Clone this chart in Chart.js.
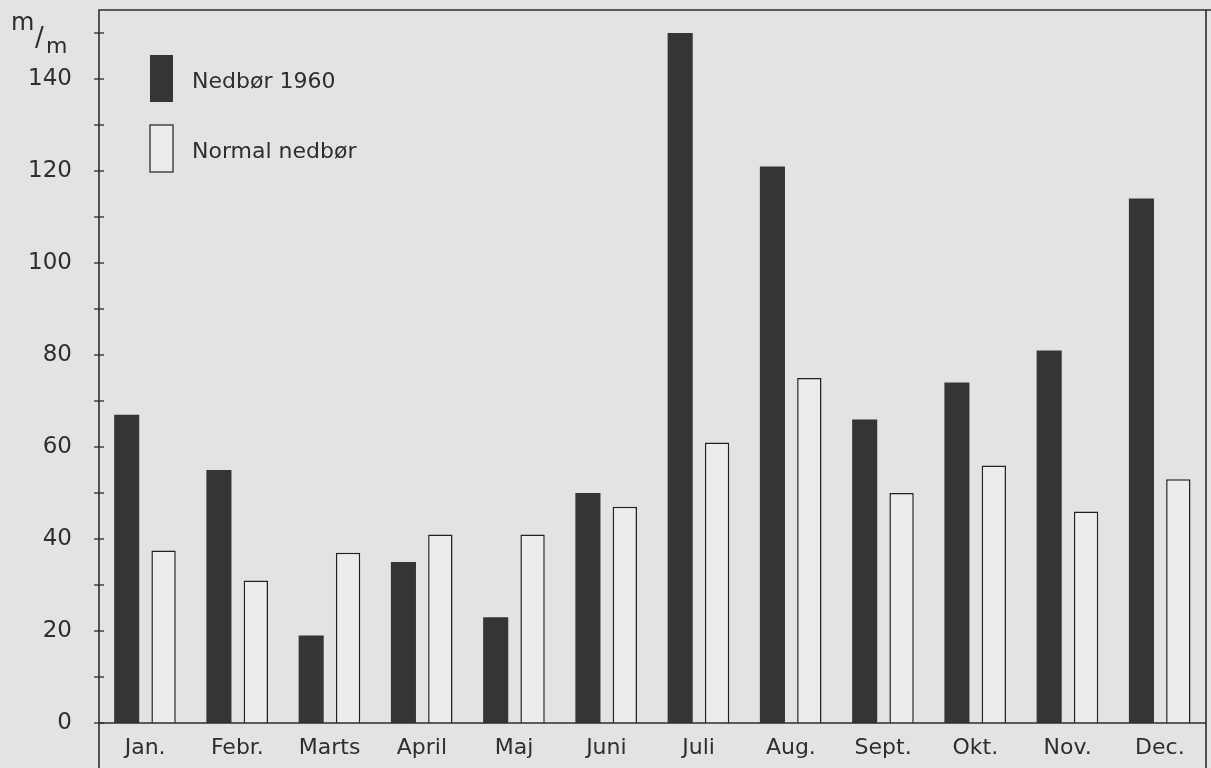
<!DOCTYPE html>
<html>
<head>
<meta charset="utf-8">
<script src="https://cdn.jsdelivr.net/npm/chart.js@4/dist/chart.umd.min.js"></script>
<style>
  html, body { margin: 0; padding: 0; background: #e3e3e3; }
  #wrap { width: 1211px; height: 768px; }
</style>
</head>
<body>
<div id="wrap"><canvas id="rainChart" width="1211" height="768"></canvas></div>
<script>
// Månederne
const months = ['Jan.', 'Febr.', 'Marts', 'April', 'Maj', 'Juni', 'Juli', 'Aug.', 'Sept.', 'Okt.', 'Nov.', 'Dec.'];

// Nedbør 1960 (mm)
const rain1960 = [67, 55, 19, 35, 23, 50, 150, 121, 66, 74, 81, 114];

// Normal nedbør (mm)
const rainNormal = [37.5, 31, 37, 41, 41, 47, 61, 75, 50, 56, 46, 53];

const legendLabels = ['Nedbør 1960', 'Normal nedbør'];
const inkColor = '#2e2e2e';
const fontName = '"DejaVu Sans", sans-serif';

// Ramme, akse-streger, enhed og forklaring
const framePlugin = {
  id: 'frame',
  beforeDraw(chart) {
    const c = chart.ctx;
    c.save();
    c.fillStyle = '#e3e3e3';
    c.fillRect(0, 0, chart.width, chart.height);
    c.restore();
  },
  afterDraw(chart) {
    const c = chart.ctx;
    const area = chart.chartArea;
    const y = chart.scales.y;
    c.save();
    c.strokeStyle = inkColor;
    c.lineWidth = 1.6;
    // ramme
    c.beginPath();
    c.moveTo(area.left, chart.height);
    c.lineTo(area.left, area.top);
    c.lineTo(chart.width, area.top);
    c.moveTo(area.right, area.top);
    c.lineTo(area.right, chart.height);
    c.moveTo(area.left, area.bottom);
    c.lineTo(area.right, area.bottom);
    c.stroke();
    // tick-streger på tværs af aksen
    c.lineWidth = 1.3;
    y.ticks.forEach((t, i) => {
      const py = y.getPixelForTick(i);
      c.beginPath();
      c.moveTo(area.left - 5, py);
      c.lineTo(area.left + 5, py);
      c.stroke();
    });
    // enhed m/m
    c.fillStyle = inkColor;
    c.textBaseline = 'alphabetic';
    c.font = '24px ' + fontName;
    c.fillText('m', 11, 30);
    c.font = '26px ' + fontName;
    c.fillText('/', 35, 46);
    c.font = '22px ' + fontName;
    c.fillText('m', 46, 53);
    // forklaring
    const ds = chart.data.datasets;
    const boxes = [{ y: 55 }, { y: 125 }];
    boxes.forEach((b, i) => {
      c.fillStyle = ds[i].backgroundColor;
      c.fillRect(150, b.y, 23, 47);
      if (i === 1) {
        c.lineWidth = 1.3;
        c.strokeRect(150, b.y, 23, 47);
      }
      c.fillStyle = inkColor;
      c.font = '22px ' + fontName;
      c.textBaseline = 'middle';
      c.fillText(legendLabels[i], 192, b.y + 27);
    });
    c.restore();
  }
};

const ctx = document.getElementById('rainChart').getContext('2d');
const rainChart = new Chart(ctx, {
  type: 'bar',
  data: {
    labels: months,
    datasets: [{
      label: legendLabels[0],
      data: rain1960,
      backgroundColor: '#353535',
      borderWidth: 0,
      barPercentage: 0.68,
      categoryPercentage: 0.8
    }, {
      label: legendLabels[1],
      data: rainNormal,
      backgroundColor: '#ececec',
      borderColor: '#222222',
      borderWidth: 1.5,
      barPercentage: 0.66,
      categoryPercentage: 0.8
    }]
  },
  options: {
    responsive: false,
    animation: false,
    layout: { padding: { top: 10, right: 5, left: 0, bottom: 0 } },
    plugins: {
      legend: { display: false },
      tooltip: { enabled: false }
    },
    scales: {
      x: {
        grid: { display: false },
        border: { display: false },
        ticks: {
          color: inkColor,
          font: { family: fontName, size: 22 },
          padding: 4,
          maxRotation: 0
        },
        afterFit(s) {
          s.height = 45;
          s.paddingLeft = 0;
          s.paddingRight = 0;
        }
      },
      y: {
        min: 0,
        max: 155,
        grid: { display: false },
        border: { display: false },
        afterBuildTicks(s) {
          const t = [];
          for (let v = 0; v <= 150; v += 10) t.push({ value: v });
          s.ticks = t;
        },
        ticks: {
          color: inkColor,
          font: { family: fontName, size: 23 },
          padding: 19,
          callback: v => (v % 20 === 0 ? v : '')
        },
        afterFit(s) {
          s.width = 99;
          s.paddingTop = 0;
          s.paddingBottom = 0;
        }
      }
    }
  },
  plugins: [framePlugin]
});
</script>
</body>
</html>
